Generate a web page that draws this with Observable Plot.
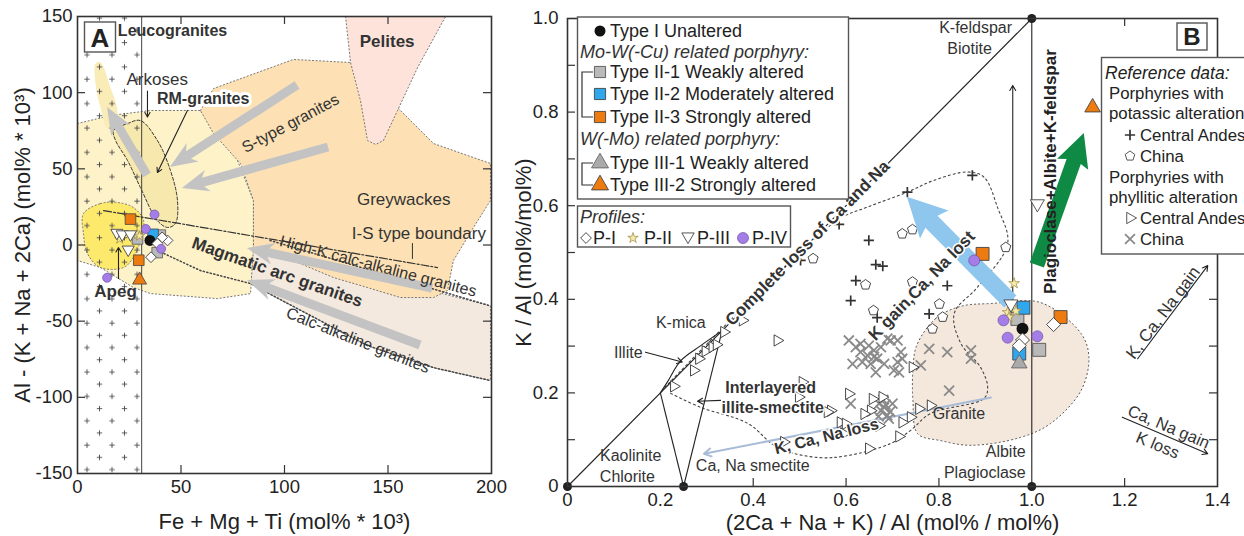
<!DOCTYPE html>
<html><head><meta charset="utf-8">
<script src="https://cdn.jsdelivr.net/npm/d3@7"></script>
<script src="https://cdn.jsdelivr.net/npm/@observablehq/plot@0.6"></script>
<style>
body{margin:0;background:#fff;width:1244px;height:536px;overflow:hidden;position:relative;font-family:"Liberation Sans",Arial,sans-serif;}
#A{position:absolute;left:0;top:0}
#B{position:absolute;left:505px;top:0}
#overlay{position:absolute;left:0;top:0;pointer-events:none}
</style></head><body>
<svg width="0" height="0" style="position:absolute"><defs>
<pattern id="plusPat" patternUnits="userSpaceOnUse" x="6" y="0" width="25" height="24.4">
<path d="M3.3,6h5.4M6,3.3v5.4M15.8,18.2h5.4M18.5,15.5v5.4" stroke="#4a4a4a" stroke-width="0.9" fill="none"/>
</pattern></defs></svg>
<div id="A"></div><div id="B"></div>
<svg id="overlay" width="1244" height="536"></svg>
<script>
const FONT = '"Liberation Sans", Arial, sans-serif';

// ================= PANEL A DATA =================
const xTicksA = [0, 50, 100, 150, 200];
const yTicksA = [-150, -100, -50, 0, 50, 100, 150];
const xMarksA = [50, 100, 150];
const yMarksA = [-100, -50, 0, 50, 100];

const pelitesA = [{x:129.5,y:150},{x:131.9,y:119.8},{x:136.7,y:94.8},{x:140.1,y:68.6},{x:144,y:66},{x:147.8,y:68.6},{x:154.6,y:88.3},{x:164.3,y:116.5},{x:177.8,y:150}];
const greywackesA = [{x:59.4,y:88.3},{x:65.7,y:102.7},{x:104.3,y:121.8},{x:131.9,y:119.8},{x:156,y:88.3},{x:172,y:66.6},{x:199.5,y:53.5},{x:199.5,y:29.2},{x:191.3,y:11.5},{x:181.6,y:-10.2},{x:178.7,y:-29.9},{x:172,y:-34.5},{x:156,y:-34.5},{x:140,y:-27.9},{x:123.7,y:-21.4},{x:107.7,y:-12.2},{x:85,y:-3.6},{x:85,y:29.2},{x:78.7,y:53.5},{x:65.7,y:73.2}];
const arkosesA = [{x:0,y:79.7},{x:15.9,y:85},{x:35.3,y:88.3},{x:59.4,y:88.3},{x:75.4,y:62},{x:85,y:29.2},{x:85,y:-1.7},{x:83.6,y:-31.9},{x:67.6,y:-35.2},{x:35.3,y:-31.9},{x:27,y:-27.9},{x:11.1,y:-14.8},{x:0,y:-10.2}];
const apegA = [{x:2.9,y:20.6},{x:11.1,y:27.2},{x:19.3,y:27.9},{x:27,y:24.6},{x:31.9,y:16},{x:30.4,y:2.9},{x:27,y:-8.2},{x:22.2,y:-14.8},{x:11.1,y:-14.8},{x:4.8,y:-5.6},{x:2.9,y:7.5}];
const leucoEllipseA = [{x:8.7,y:119.1},{x:11.1,y:119.8},{x:15.9,y:103.4},{x:19.3,y:88.3},{x:18.4,y:76.5},{x:14.5,y:76.5},{x:11.1,y:90.2},{x:8.7,y:106}];
const rmGranitesA = [{x:17.4,y:75.1},{x:24.2,y:79.7},{x:30.4,y:81.7},{x:38.6,y:68.6},{x:44.9,y:48.9},{x:48.3,y:29.2},{x:47.3,y:14.1},{x:43.5,y:11.5},{x:38.6,y:16},{x:30.4,y:37.7},{x:24.2,y:55.4},{x:18.4,y:68.6}];
const arcBandA = [{x:85,y:0},{x:199.5,y:-40},{x:199.5,y:-89},{x:172,y:-80.5},{x:140,y:-66},{x:98.9,y:-36.5},{x:83.6,y:-25.3}];
const leucoFieldA = [{x1:0, x2:31, y1:-150, y2:150}];
const leucoLineA = [31];
const isBoundaryA = [{x:12.6,y:22.6},{x:173.9,y:-14.8}];
const isTickA = [{x:161.8,y:1},{x:161.8,y:-8.9}];
const highKLineA = [{x:93,y:3},{x:199.5,y:-40}];
const calcAlkLineA = [{x:38.6,y:-3.6},{x:59.4,y:-16.8},{x:83.6,y:-25.3},{x:98.9,y:-36.5},{x:140,y:-66},{x:172,y:-80.5},{x:199.5,y:-89}];
const grayArrowsA = [
  {x1:33.8,y1:45.6,x2:14.5,y2:90.2},
  {x1:106.3,y1:104.7,x2:44.9,y2:50.9},
  {x1:121.3,y1:64,x2:50.7,y2:37.1},
  {x1:171.5,y1:-28.6,x2:82.1,y2:-2.3},
  {x1:165.7,y1:-66,x2:82.1,y2:-23.3}
];
const pointerArrowsA = [
  {x1:33.8,y1:101,x2:33.8,y2:84},
  {x1:53.1,y1:88.3,x2:38.6,y2:47.6},
  {x1:19.8,y1:-22,x2:19.8,y2:-1.7}
];
const plainLabelsA = [
  {x:38.5,y:108.4,text:"Arkoses"},
  {x:157.6,y:29.8,text:"Greywackes"},
  {x:164.9,y:7.3,text:"I-S type boundary"}
];
const boldLabelsA = [
  {x:149.6,y:133.6,text:"Pelites"},
  {x:18.4,y:-30.4,text:"Apeg"}
];
const leucoLabelA = [{x:19.5,y:140.8,text:"Leucogranites"}];
const rmLabelA = [{x:60.7,y:96,text:"RM-granites"}];
const sTypeLabelA = [{x:102.9,y:79.7,text:"S-type granites"}];
const highKLabelA = [{x:145.2,y:-14,text:"High-K calc-alkaline granites"}];
const arcLabelA = [{x:96.5,y:-17.9,text:"Magmatic arc granites"}];
const calcAlkLabelA = [{x:135.5,y:-62.7,text:"Calc-alkaline granites"}];

// study samples, panel A
const typeI_A = [{x:35,y:3}];
const typeII1_A = [{x:29,y:4},{x:38.5,y:-5},{x:40,y:6.5}];
const typeII2_A = [{x:36.5,y:7}];
const typeII3_A = [{x:25.6,y:17},{x:29.6,y:-10}];
const typeIII2_A = [{x:30,y:-23}];
const pI_A = [{x:43.5,y:3},{x:40.9,y:5},{x:38.6,y:1},{x:35.5,y:-8}];
const pII_A = [{x:20.4,y:4},{x:28.8,y:7},{x:30,y:6}];
const pIII_A = [{x:19,y:8},{x:21.6,y:7},{x:25.6,y:7},{x:24.5,y:-3}];
const pIV_A = [{x:37.2,y:20},{x:14.3,y:-21.5},{x:33,y:10.5},{x:40.4,y:-2.5}];

// ================= PANEL B DATA =================
const xTicksB = [0, 0.2, 0.4, 0.6, 0.8, 1.0, 1.2, 1.4];
const yTicksB = [0, 0.2, 0.4, 0.6, 0.8, 1.0];
const xMarksBottomB = [0.4, 0.6, 0.8, 1.2];
const xMarksTopB = [1.2];
const yMarksB = [0.1, 0.2, 0.3, 0.4, 0.5, 0.6, 0.7, 0.8, 0.9];

const graniteB = [{x:0.752,y:0.301},{x:0.793,y:0.359},{x:0.847,y:0.385},{x:0.912,y:0.391},{x:1.019,y:0.393},{x:1.106,y:0.327},{x:1.123,y:0.276},{x:1.106,y:0.205},{x:1.041,y:0.135},{x:0.976,y:0.105},{x:0.869,y:0.088},{x:0.804,y:0.098},{x:0.754,y:0.113},{x:0.744,y:0.184},{x:0.744,y:0.248}];
const alterationFieldB = [{x:0.21,y:0.212},{x:0.58,y:0.568},{x:0.646,y:0.597},{x:0.732,y:0.629},{x:0.789,y:0.654},{x:0.861,y:0.672},{x:0.897,y:0.661},{x:0.926,y:0.597},{x:0.948,y:0.519},{x:0.883,y:0.426},{x:0.833,y:0.370},{x:0.847,y:0.306},{x:0.890,y:0.254},{x:0.905,y:0.212},{x:0.897,y:0.188},{x:0.782,y:0.156},{x:0.739,y:0.120},{x:0.696,y:0.092},{x:0.603,y:0.066},{x:0.539,y:0.062},{x:0.453,y:0.083},{x:0.388,y:0.135},{x:0.287,y:0.169},{x:0.222,y:0.199}];
const mineralLinesB = [
  {x1:0,y1:0,x2:1,y2:1},
  {x1:1,y1:0,x2:1,y2:1},
  {x1:0.2,y1:0.2,x2:0.25,y2:0},
  {x1:0.25,y1:0,x2:0.333,y2:0.333}
];
const illiteLensB = [{x:0.2,y:0.2},{x:0.215,y:0.223},{x:0.244,y:0.269},{x:0.287,y:0.301},{x:0.333,y:0.333}];
const vertexB = [{x:0,y:0},{x:0.25,y:0},{x:1,y:0},{x:1,y:1}];
const thinArrowsB = [
  {x1:0.959,y1:0.395,x2:0.959,y2:0.857},
  {x1:1.228,y1:0.273,x2:1.379,y2:0.472},
  {x1:1.195,y1:0.148,x2:1.379,y2:0.070},
  {x1:0.168,y1:0.287,x2:0.247,y2:0.266},
  {x1:0.33,y1:0.184,x2:0.28,y2:0.182}
];
const lossArrowB = [{x1:0.912,y1:0.19,x2:0.294,y2:0.07}];
const kGainArrowB = [{x1:0.955,y1:0.394,x2:0.732,y2:0.618}];
const feldsparArrowB = [{x1:1.012,y1:0.472,x2:1.113,y2:0.754}];

const plainLabelsB = [
  {x:0.879,y:0.979,text:"K-feldspar"},
  {x:0.866,y:0.936,text:"Biotite"},
  {x:0.136,y:0.066,text:"Kaolinite"},
  {x:0.129,y:0.021,text:"Chlorite"},
  {x:0.399,y:0.045,text:"Ca, Na smectite"},
  {x:0.131,y:0.286,text:"Illite"},
  {x:0.244,y:0.350,text:"K-mica"},
  {x:0.843,y:0.156,text:"Granite"}
];
const endLabelsB = [{x:0.987,y:0.075,text:"Albite"},{x:0.987,y:0.030,text:"Plagioclase"}];
const boldLabelsB = [{x:0.4375,y:0.2115,text:"Interlayered"},{x:0.442,y:0.167,text:"illite-smectite"}];
const completeLossLabelB = [{x:0.517,y:0.52,text:"Complete loss of Ca and Na"}];
const kGainLabelB = [{x:0.763,y:0.429,text:"K gain,Ca, Na lost"}];
const kLossLabelB = [{x:0.558,y:0.107,text:"K, Ca, Na loss"}];
const feldsparLabelB = [{x:1.041,y:0.673,text:"Plagioclase+Albite+K-feldspar"}];
const gainLabelB = [{x:1.283,y:0.371,text:"K, Ca, Na gain"}];
const caNaGainLabelB = [{x:1.295,y:0.127,text:"Ca, Na gain"},{x:1.271,y:0.088,text:"K loss"}];

// reference data (panel B)
const andesPotassic = [{x:0.732,y:0.629},{x:0.872,y:0.665},{x:0.585,y:0.560},{x:0.649,y:0.526},{x:0.664,y:0.474},{x:0.679,y:0.471},{x:0.621,y:0.440},{x:0.610,y:0.397},{x:0.818,y:0.429},{x:0.779,y:0.369},{x:0.502,y:0.483},{x:0.667,y:0.361}];
const chinaPotassic = [{x:0.743,y:0.549},{x:0.721,y:0.540},{x:0.529,y:0.487},{x:0.642,y:0.431},{x:0.743,y:0.437},{x:0.659,y:0.376},{x:0.801,y:0.390},{x:0.808,y:0.362},{x:0.786,y:0.337},{x:0.944,y:0.511}];
const andesPhyllic = [{x:0.229,y:0.214},{x:0.272,y:0.248},{x:0.283,y:0.273},{x:0.297,y:0.289},{x:0.312,y:0.298},{x:0.321,y:0.303},{x:0.337,y:0.330},{x:0.377,y:0.355},{x:0.452,y:0.312},{x:0.506,y:0.223},{x:0.498,y:0.191},{x:0.606,y:0.198},{x:0.657,y:0.187},{x:0.678,y:0.191},{x:0.653,y:0.162},{x:0.639,y:0.155},{x:0.671,y:0.130},{x:0.588,y:0.137},{x:0.599,y:0.134},{x:0.595,y:0.113},{x:0.743,y:0.255},{x:0.757,y:0.166},{x:0.782,y:0.173},{x:0.714,y:0.107},{x:0.739,y:0.148},{x:0.721,y:0.137},{x:0.649,y:0.081},{x:0.567,y:0.162},{x:0.466,y:0.095},{x:0.560,y:0.159}];
const chinaPhyllic = [{x:0.606,y:0.312},{x:0.621,y:0.298},{x:0.631,y:0.287},{x:0.646,y:0.280},{x:0.660,y:0.291},{x:0.675,y:0.298},{x:0.689,y:0.316},{x:0.667,y:0.273},{x:0.653,y:0.262},{x:0.635,y:0.266},{x:0.614,y:0.262},{x:0.711,y:0.312},{x:0.718,y:0.287},{x:0.711,y:0.266},{x:0.714,y:0.244},{x:0.721,y:0.273},{x:0.664,y:0.244},{x:0.761,y:0.259},{x:0.779,y:0.294},{x:0.818,y:0.287},{x:0.869,y:0.291},{x:0.869,y:0.273},{x:0.822,y:0.205},{x:0.610,y:0.177},{x:0.682,y:0.169},{x:0.689,y:0.152},{x:0.675,y:0.162},{x:0.700,y:0.177},{x:0.692,y:0.145},{x:0.671,y:0.177},{x:0.631,y:0.305},{x:0.696,y:0.312},{x:0.660,y:0.277},{x:0.682,y:0.262},{x:0.703,y:0.248},{x:0.649,y:0.301},{x:0.680,y:0.185},{x:0.695,y:0.160},{x:0.670,y:0.150},{x:0.685,y:0.175}];

// study samples, panel B
const typeI_B = [{x:0.980,y:0.337}];
const typeII1_B = [{x:0.969,y:0.358},{x:1.016,y:0.292}];
const typeII2_B = [{x:0.982,y:0.382},{x:0.973,y:0.284}];
const typeII3_B = [{x:0.894,y:0.497},{x:1.062,y:0.362}];
const typeIII1_B = [{x:0.973,y:0.263}];
const typeIII2_B = [{x:1.131,y:0.810}];
const pI_B = [{x:1.047,y:0.346},{x:0.980,y:0.313},{x:0.973,y:0.301}];
const pII_B = [{x:0.962,y:0.434},{x:0.948,y:0.372},{x:0.966,y:0.375},{x:0.951,y:0.362}];
const pIII_B = [{x:0.955,y:0.390},{x:1.012,y:0.604}];
const pIV_B = [{x:0.876,y:0.483},{x:0.939,y:0.355},{x:0.948,y:0.318},{x:1.012,y:0.321}];

// legend texts
const studyLegend = ["Type I Unaltered","Mo-W(-Cu) related porphyry:","Type II-1 Weakly altered","Type II-2 Moderately altered","Type II-3 Strongly altered","W(-Mo) related porphyry:","Type III-1 Weakly altered","Type III-2 Strongly altered"];
const profileLegend = ["P-I","P-II","P-III","P-IV"];
const refLegend = ["Reference data:","Porphyries with","potassic alteration","Central Andes","China","Porphyries with","phyllitic alteration","Central Andes","China"];

// ================= HELPERS =================
const C = {
  grey:"#b9b9b9", blue:"#2ea7ef", orange:"#ee7b10", purple:"#a47ee6", star:"#f6eba6",
  greyArrow:"#c3c3c3", kArrow:"#8fc6ee", green:"#0f8a45"
};
const pentagon = {draw(ctx, size){ const r = Math.sqrt(size/2.378); for (let i=0;i<5;i++){ const a=-Math.PI/2+i*2*Math.PI/5; const px=r*Math.cos(a), py=r*Math.sin(a); if(i) ctx.lineTo(px,py); else ctx.moveTo(px,py);} ctx.closePath(); }};

function fatArrows(data, {shaft, headW, headL, notch = 0, fill}) {
  return Plot.link(data, {x1:"x1", y1:"y1", x2:"x2", y2:"y2", stroke: fill, strokeWidth: shaft,
    render(index, scales, values) {
      const ns = "http://www.w3.org/2000/svg";
      const g = document.createElementNS(ns, "g");
      for (const i of index) {
        const x1=values.x1[i], y1=values.y1[i], x2=values.x2[i], y2=values.y2[i];
        const dx=x2-x1, dy=y2-y1, L=Math.hypot(dx,dy), ux=dx/L, uy=dy/L, px=-uy, py=ux;
        const bx=x2-ux*headL, by=y2-uy*headL;
        const wx=bx-ux*notch, wy=by-uy*notch;
        const pts=[[x1+px*shaft/2,y1+py*shaft/2],[bx+px*shaft/2,by+py*shaft/2],[wx+px*headW/2,wy+py*headW/2],[x2,y2],[wx-px*headW/2,wy-py*headW/2],[bx-px*shaft/2,by-py*shaft/2],[x1-px*shaft/2,y1-py*shaft/2]];
        const p=document.createElementNS(ns,"polygon");
        p.setAttribute("points", pts.map(q=>q.map(v=>v.toFixed(1)).join(",")).join(" "));
        p.setAttribute("fill", fill);
        g.appendChild(p);
      }
      return g;
    }});
}
const region = (data, fill, stroke, dash, curve="linear-closed") =>
  Plot.line(data, {x:"x", y:"y", fill, stroke, strokeWidth:1, strokeDasharray:dash, curve});

function frameMarks(xTicks, yTicks, xBottom, xTop, yLeft, yRight, fmt, iw, ih, yPad) {
  return [
    Plot.tickX(xBottom, {x:d=>d, insetTop: ih-8, stroke:"#333", strokeWidth:1.2}),
    Plot.tickX(xTop, {x:d=>d, insetBottom: ih-8, stroke:"#333", strokeWidth:1.2}),
    Plot.tickY(yLeft, {y:d=>d, insetRight: iw-8, stroke:"#333", strokeWidth:1.2}),
    Plot.tickY(yRight, {y:d=>d, insetLeft: iw-8, stroke:"#333", strokeWidth:1.2}),
    Plot.frame({stroke:"#333", strokeWidth:1.6}),
    Plot.axisX(xTicks, {anchor:"bottom", tickSize:0, tickPadding:6, fontSize:18.5, tickFormat:fmt, label:null, fill:"#222"}),
    Plot.axisY(yTicks, {anchor:"left", tickSize:0, tickPadding:yPad, fontSize:18.5, tickFormat:fmt, label:null, fill:"#222"})
  ];
}

// ================= PANEL A =================
const plotA = Plot.plot({
  width:505, height:536, marginLeft:77, marginRight:14, marginTop:16, marginBottom:63,
  x:{domain:[0,200]}, y:{domain:[-150,150]},
  style:{fontFamily:FONT, background:"transparent", overflow:"visible"},
  marks:[
    region(arcBandA, "#f4e9df", "#777", "1.2,2.4"),
    region(arkosesA, "#fdf2c8", "#777", "1.2,2.4"),
    region(greywackesA, "#fde1b4", "#777", "1.2,2.4"),
    region(pelitesA, "#fde3da", "#777", "1.2,2.4"),
    region(leucoEllipseA, "#faecb6", "none", null, "catmull-rom-closed"),
    region(rmGranitesA, "#f7e8ae", "#333", "3,2", "catmull-rom-closed"),
    region(apegA, "#fde96c", "#777", "1.2,2.4", "catmull-rom-closed"),
    Plot.rect(leucoFieldA, {x1:"x1", x2:"x2", y1:"y1", y2:"y2", fill:"url(#plusPat)"}),
    Plot.ruleX(leucoLineA, {x:d=>d, stroke:"#444", strokeWidth:1}),
    Plot.line(highKLineA, {x:"x", y:"y", stroke:"#444", strokeDasharray:"1.2,2.4"}),
    Plot.line(calcAlkLineA, {x:"x", y:"y", stroke:"#444", strokeDasharray:"1.2,2.4"}),
    Plot.line(isBoundaryA, {x:"x", y:"y", stroke:"#333", strokeWidth:1.2, strokeDasharray:"8,2,2,2"}),
    Plot.line(isTickA, {x:"x", y:"y", stroke:"#333", strokeWidth:1}),
    fatArrows(grayArrowsA, {shaft:9, headW:22, headL:22, notch:5, fill:C.greyArrow}),
    Plot.arrow(pointerArrowsA, {x1:"x1", y1:"y1", x2:"x2", y2:"y2", stroke:"#222", strokeWidth:1.1, headLength:7}),
    Plot.text(plainLabelsA, {x:"x", y:"y", text:"text", fontSize:17, fill:"#333"}),
    Plot.text(boldLabelsA, {x:"x", y:"y", text:"text", fontSize:17, fontWeight:"bold", fill:"#333"}),
    Plot.text(leucoLabelA, {x:"x", y:"y", text:"text", fontSize:16, fontWeight:"bold", fill:"#333", textAnchor:"start"}),
    Plot.text(rmLabelA, {x:"x", y:"y", text:"text", fontSize:16, fontWeight:"bold", fill:"#333", stroke:"white", strokeWidth:6, paintOrder:"stroke"}),
    Plot.text(sTypeLabelA, {x:"x", y:"y", text:"text", fontSize:16, fill:"#333", rotate:-28}),
    Plot.text(highKLabelA, {x:"x", y:"y", text:"text", fontSize:16, fill:"#333", rotate:14.6}),
    Plot.text(arcLabelA, {x:"x", y:"y", text:"text", fontSize:17, fontWeight:"bold", fill:"#333", rotate:19.4}),
    Plot.text(calcAlkLabelA, {x:"x", y:"y", text:"text", fontSize:16, fill:"#333", rotate:21.6}),
    Plot.dot(typeII1_A, {x:"x", y:"y", symbol:"square", r:6, fill:C.grey, stroke:"#555", strokeWidth:0.8}),
    Plot.dot(typeII2_A, {x:"x", y:"y", symbol:"square", r:6, fill:C.blue, stroke:"#444", strokeWidth:0.8}),
    Plot.dot(typeII3_A, {x:"x", y:"y", symbol:"square", r:6, fill:C.orange, stroke:"#444", strokeWidth:0.8}),
    Plot.dot(typeIII2_A, {x:"x", y:"y", symbol:"triangle", r:5.2, fill:C.orange, stroke:"#444", strokeWidth:0.8}),
    Plot.dot(typeI_A, {x:"x", y:"y", r:5.5, fill:"#111"}),
    Plot.dot(pI_A, {x:"x", y:"y", symbol:"square", rotate:45, r:4.3, fill:"#fff", stroke:"#444", strokeWidth:0.9}),
    Plot.dot(pII_A, {x:"x", y:"y", symbol:"star", r:3.2, fill:C.star, stroke:"#9c8740", strokeWidth:0.7}),
    Plot.dot(pIII_A, {x:"x", y:"y", symbol:"triangle", rotate:180, r:4.5, fill:"#fff", stroke:"#444", strokeWidth:0.9}),
    Plot.dot(pIV_A, {x:"x", y:"y", r:4.5, fill:C.purple, stroke:"#6d52a8", strokeWidth:0.7}),
    ...frameMarks(xTicksA, yTicksA, xMarksA, xMarksA, yMarksA, yMarksA, d=>String(d), 414, 457, 5),
    Plot.text(["Fe + Mg + Ti (mol% * 10³)"], {frameAnchor:"bottom", lineAnchor:"middle", dy:48, text:d=>d, fontSize:22, fill:"#222"}),
    Plot.text(["Al - (K + Na + 2Ca) (mol% * 10³)"], {frameAnchor:"left", textAnchor:"middle", lineAnchor:"middle", dx:-55, rotate:-90, text:d=>d, fontSize:22, fill:"#222"})
  ]
});
document.getElementById("A").appendChild(plotA);

// ================= PANEL B =================
const fmtB = d => d === 0 ? "0" : d.toFixed(1);
const plotB = Plot.plot({
  width:739, height:536, marginLeft:62, marginRight:27, marginTop:18, marginBottom:50,
  x:{domain:[0,1.4]}, y:{domain:[0,1]},
  style:{fontFamily:FONT, background:"transparent", overflow:"visible"},
  marks:[
    region(graniteB, "#f4e8dd", "#555", "1.2,3", "catmull-rom-closed"),
    Plot.line(alterationFieldB, {x:"x", y:"y", stroke:"#444", strokeWidth:1.1, strokeDasharray:"2,3", curve:"catmull-rom"}),
    Plot.link(mineralLinesB, {x1:"x1", y1:"y1", x2:"x2", y2:"y2", stroke:"#222", strokeWidth:1.1}),
    Plot.line(illiteLensB, {x:"x", y:"y", stroke:"#222", strokeWidth:1.1, curve:"catmull-rom"}),
    Plot.arrow(thinArrowsB, {x1:"x1", y1:"y1", x2:"x2", y2:"y2", stroke:"#222", strokeWidth:1.1, headLength:8}),
    Plot.arrow(lossArrowB, {x1:"x1", y1:"y1", x2:"x2", y2:"y2", stroke:"#a8bcd8", strokeWidth:2, headLength:6}),
    Plot.dot(chinaPhyllic, {x:"x", y:"y", symbol:"times", r:4.6, stroke:"#8a8a8a", strokeWidth:1.8}),
    Plot.dot(andesPhyllic, {x:"x", y:"y", symbol:"triangle", rotate:90, r:4.2, fill:"#fff", stroke:"#333", strokeWidth:0.9}),
    Plot.dot(andesPotassic, {x:"x", y:"y", symbol:"plus", r:3.4, stroke:"#333", strokeWidth:1.7}),
    Plot.dot(chinaPotassic, {x:"x", y:"y", symbol:pentagon, r:4.6, fill:"#fff", stroke:"#333", strokeWidth:0.9}),
    fatArrows(kGainArrowB, {shaft:17, headW:40, headL:35, notch:4, fill:C.kArrow}),
    fatArrows(feldsparArrowB, {shaft:15, headW:33, headL:30, notch:3, fill:C.green}),
    Plot.text(plainLabelsB, {x:"x", y:"y", text:"text", fontSize:16, fill:"#333"}),
    Plot.text(endLabelsB, {x:"x", y:"y", text:"text", fontSize:16, fill:"#333", textAnchor:"end"}),
    Plot.text(boldLabelsB, {x:"x", y:"y", text:"text", fontSize:16, fontWeight:"bold", fill:"#333", stroke:"white", strokeWidth:3, paintOrder:"stroke"}),
    Plot.text(completeLossLabelB, {x:"x", y:"y", text:"text", fontSize:17, fontWeight:"bold", fill:"#333", stroke:"white", strokeWidth:4, paintOrder:"stroke", rotate:-45.2}),
    Plot.text(kGainLabelB, {x:"x", y:"y", text:"text", fontSize:17, fontWeight:"bold", fill:"#333", stroke:"white", strokeWidth:3, paintOrder:"stroke", rotate:-46}),
    Plot.text(kLossLabelB, {x:"x", y:"y", text:"text", fontSize:16, fontWeight:"bold", fill:"#333", stroke:"white", strokeWidth:3, paintOrder:"stroke", rotate:-14}),
    Plot.text(feldsparLabelB, {x:"x", y:"y", text:"text", fontSize:17, fontWeight:"bold", fill:"#222", rotate:-90}),
    Plot.text(gainLabelB, {x:"x", y:"y", text:"text", fontSize:17, fill:"#333", rotate:-53}),
    Plot.text(caNaGainLabelB, {x:"x", y:"y", text:"text", fontSize:16.5, fill:"#333", rotate:23}),
    Plot.dot(typeII1_B, {x:"x", y:"y", symbol:"square", r:7.3, fill:C.grey, stroke:"#555", strokeWidth:0.9}),
    Plot.dot(typeII2_B, {x:"x", y:"y", symbol:"square", r:7.3, fill:C.blue, stroke:"#444", strokeWidth:0.9}),
    Plot.dot(typeII3_B, {x:"x", y:"y", symbol:"square", r:7.3, fill:C.orange, stroke:"#444", strokeWidth:0.9}),
    Plot.dot(typeIII1_B, {x:"x", y:"y", symbol:"triangle", r:5.8, fill:"#aaa", stroke:"#666", strokeWidth:0.9}),
    Plot.dot(typeIII2_B, {x:"x", y:"y", symbol:"triangle", r:5.8, fill:C.orange, stroke:"#444", strokeWidth:0.9}),
    Plot.dot(pII_B, {x:"x", y:"y", symbol:"star", r:3.4, fill:C.star, stroke:"#9c8740", strokeWidth:0.7}),
    Plot.dot(typeI_B, {x:"x", y:"y", r:6, fill:"#111"}),
    Plot.dot(pI_B, {x:"x", y:"y", symbol:"square", rotate:45, r:5.6, fill:"#fff", stroke:"#444", strokeWidth:0.9}),
    Plot.dot(pIII_B, {x:"x", y:"y", symbol:"triangle", rotate:180, r:5.2, fill:"#fff", stroke:"#444", strokeWidth:0.9}),
    Plot.dot(pIV_B, {x:"x", y:"y", r:5.5, fill:C.purple, stroke:"#6d52a8", strokeWidth:0.7}),
    Plot.dot(vertexB, {x:"x", y:"y", r:4.5, fill:"#222"}),
    ...frameMarks(xTicksB, yTicksB, xMarksBottomB, xMarksTopB, yMarksB, yMarksB, fmtB, 650, 468, 9),
    Plot.text(["(2Ca + Na + K) / Al (mol% / mol%)"], {frameAnchor:"bottom", lineAnchor:"middle", dy:36, text:d=>d, fontSize:22, fill:"#222"}),
    Plot.text(["K / Al (mol%/mol%)"], {frameAnchor:"left", textAnchor:"middle", lineAnchor:"middle", dx:-44, rotate:-90, text:d=>d, fontSize:22, fill:"#222"})
  ]
});
document.getElementById("B").appendChild(plotB);

// ================= OVERLAY: panel tags & legends =================
const ov = d3.select("#overlay").style("font-family", FONT);
const LF = 18;
function box(x,y,w,h){ ov.append("rect").attr("x",x).attr("y",y).attr("width",w).attr("height",h).attr("fill","#fff").attr("stroke","#555").attr("stroke-width",1.4); }
function txt(x,y,s,o={}){ return ov.append("text").attr("x",x).attr("y",y).attr("dy","0.35em").attr("font-size",o.size||LF).attr("font-style",o.italic?"italic":null).attr("font-weight",o.bold?"bold":null).attr("fill",o.fill||"#222").attr("text-anchor",o.anchor||"start").text(s); }
function sym(type, x, y, r, fill, stroke, rot=0, sw=0.9){
  ov.append("path").attr("d", d3.symbol(type, Math.PI*r*r)()).attr("transform",`translate(${x},${y}) rotate(${rot})`).attr("fill",fill).attr("stroke",stroke).attr("stroke-width",sw);
}
// panel tags
box(84.5, 22, 31, 30); txt(100, 37.5, "A", {size:26, bold:true, anchor:"middle"});
box(1177, 23, 30, 27); txt(1192, 37, "B", {size:24, bold:true, anchor:"middle"});

// study legend
box(577.5, 17, 271, 182);
const rowsY = [31, 52, 72, 94, 117, 139, 163, 185];
sym(d3.symbolCircle, 600, rowsY[0], 5.5, "#111", "none");
sym(d3.symbolSquare, 600, rowsY[2], 6.3, C.grey, "#555");
sym(d3.symbolSquare, 600, rowsY[3], 6.3, C.blue, "#444");
sym(d3.symbolSquare, 600, rowsY[4], 6.3, C.orange, "#444");
sym(d3.symbolTriangle, 600, rowsY[6], 6.3, "#aaa", "#666");
sym(d3.symbolTriangle, 600, rowsY[7], 6.3, C.orange, "#444");
ov.append("path").attr("d",`M593,${rowsY[2]}H582V${rowsY[4]}H593M593,${rowsY[6]}H582V${rowsY[7]}H593`).attr("fill","none").attr("stroke","#333").attr("stroke-width",1.2);
studyLegend.forEach((s,i)=>{
  const header = i===1 || i===5;
  txt(header?580:610, rowsY[i], s, {italic:header, fill: header?"#333":"#222"});
});

// profile legend
box(577.5, 206, 213, 41);
txt(580, 217, "Profiles:", {italic:true, fill:"#333"});
sym(d3.symbolSquare, 586, 238, 4.3, "#fff", "#444", 45);
sym(d3.symbolStar, 633, 238, 3.3, C.star, "#9c8740", 0, 0.7);
sym(d3.symbolTriangle, 688, 236.5, 4.6, "#fff", "#444", 180);
sym(d3.symbolCircle, 743, 238, 5.5, C.purple, "#6d52a8", 0, 0.7);
[593, 644, 697, 752].forEach((x,i)=>txt(x, 238, profileLegend[i]));

// reference legend
box(1101.5, 57.5, 160, 196.5);
const refY = [73, 93, 113, 135, 156, 177, 197, 218, 239];
const refX = [1105, 1109, 1109, 1140, 1140, 1109, 1109, 1140, 1140];
refLegend.forEach((s,i)=>txt(refX[i], refY[i], s, {italic:i===0, size: i===0 ? 17.5 : 16.8}));
ov.append("path").attr("d", d3.symbol(d3.symbolPlus, Math.PI*3.4*3.4)()).attr("transform",`translate(1130,${refY[3]})`).attr("fill","none").attr("stroke","#333").attr("stroke-width",1.7);
ov.append("path").attr("d", d3.symbol(pentagon, Math.PI*4.4*4.4)()).attr("transform",`translate(1130,${refY[4]})`).attr("fill","#fff").attr("stroke","#444").attr("stroke-width",0.9);
sym(d3.symbolTriangle, 1130, refY[7], 4.2, "#fff", "#444", 90);
ov.append("path").attr("d", d3.symbol(d3.symbolTimes, Math.PI*4.6*4.6)()).attr("transform",`translate(1130,${refY[8]})`).attr("fill","none").attr("stroke","#8a8a8a").attr("stroke-width",1.8);
</script></body></html>
